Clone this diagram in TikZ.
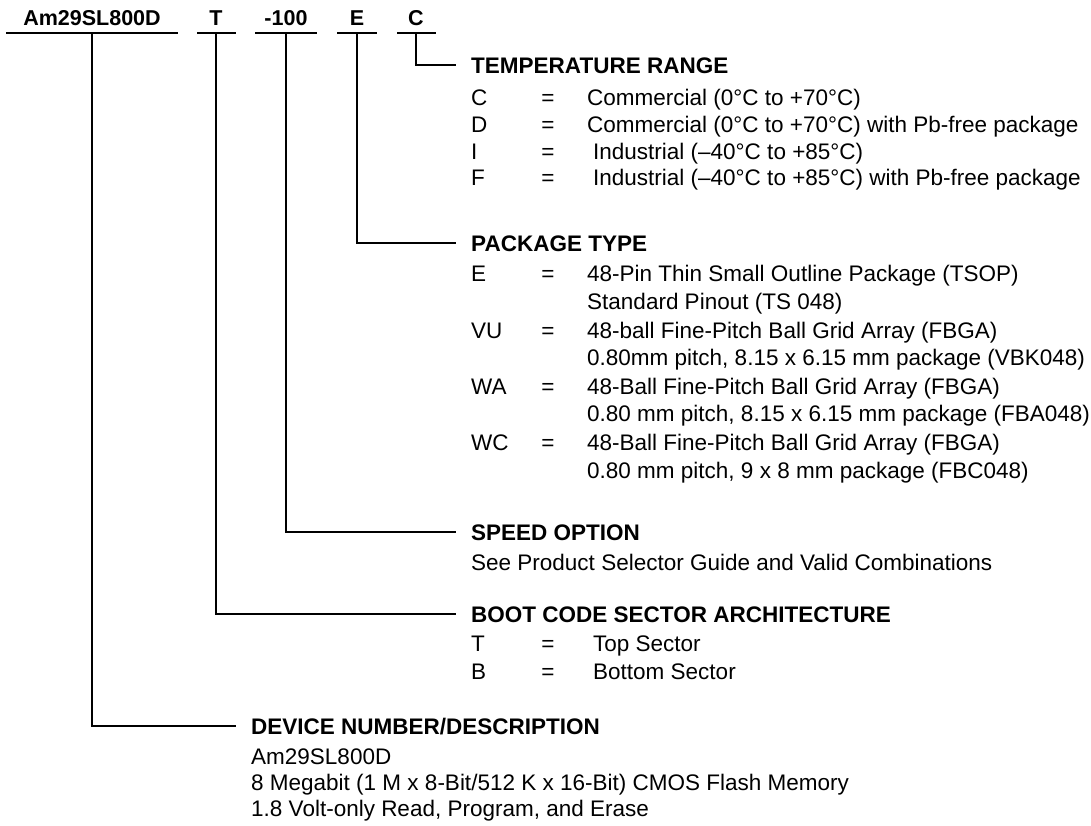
\documentclass[tikz,border=0pt]{standalone}
\usepackage{fontspec}
\setmainfont{Liberation Sans}
\begin{document}
\begin{tikzpicture}[x=1pt,y=-1pt,
  txt/.style={anchor=base west,inner sep=0pt,font=\fontsize{22.5}{27}\selectfont},
  hd/.style={anchor=base west,inner sep=0pt,font=\fontsize{22.5}{27}\selectfont\bfseries},
  top/.style={anchor=base,inner sep=0pt,font=\fontsize{21.5}{26}\selectfont\bfseries},
  eqs/.style={anchor=base,inner sep=0pt,font=\fontsize{22.5}{27}\selectfont},
  conn/.style={line width=1.6pt,line cap=butt}]
\useasboundingbox (0,0) rectangle (1091,825);
% header
\node[top] (hAm) at (92,25) {Am29SL800D};
\node[top] (hT) at (216,25) {T};
\node[top] (h100) at (286,25) {-100};
\node[top] (hE) at (357,25) {E};
\node[top] (hC) at (416,25) {C};
\coordinate (uAmL) at (6,33); \coordinate (uAmR) at (178,33); \coordinate (uAm) at (92,33);
\coordinate (uTL) at (197,33); \coordinate (uTR) at (236,33); \coordinate (uT) at (216,33);
\coordinate (u1L) at (255,33); \coordinate (u1R) at (317,33); \coordinate (u1) at (286,33);
\coordinate (uEL) at (337,33); \coordinate (uER) at (377,33); \coordinate (uE) at (357,33);
\coordinate (uCL) at (397,33); \coordinate (uCR) at (436,33); \coordinate (uC) at (416,33);
\draw[conn] (uAmL) -- (uAmR);
\draw[conn] (uTL) -- (uTR);
\draw[conn] (u1L) -- (u1R);
\draw[conn] (uEL) -- (uER);
\draw[conn] (uCL) -- (uCR);
% connector ends
\coordinate (eC) at (456,65);
\coordinate (eE) at (456,243);
\coordinate (e1) at (456,532);
\coordinate (eT) at (456,614);
\coordinate (eAm) at (236,726);
\draw[conn] (uC) |- (eC);
\draw[conn] (uE) |- (eE);
\draw[conn] (u1) |- (e1);
\draw[conn] (uT) |- (eT);
\draw[conn] (uAm) |- (eAm);
% temperature range
\node[hd] (tH) at (471,73) {TEMPERATURE RANGE};
\node[txt] (tC) at (471,105) {C};   \node[eqs] (tCe) at (548,105) {=}; \node[txt] (tCd) at (587,105) {Commercial (0°C to +70°C)};
\node[txt] (tD) at (471,132) {D};   \node[eqs] (tDe) at (548,132) {=}; \node[txt] (tDd) at (587,132) {Commercial (0°C to +70°C) with Pb-free package};
\node[txt] (tI) at (471,159) {I};   \node[eqs] (tIe) at (548,159) {=}; \node[txt] (tId) at (593,159) {Industrial (–40°C to +85°C)};
\node[txt] (tF) at (471,185) {F};   \node[eqs] (tFe) at (548,185) {=}; \node[txt] (tFd) at (593,185) {Industrial (–40°C to +85°C) with Pb-free package};
% package type
\node[hd] (pH) at (471,251) {PACKAGE TYPE};
\node[txt] (pE) at (471,281) {E};   \node[eqs] (pEe) at (548,281) {=}; \node[txt] (pEd) at (587,281) {48-Pin Thin Small Outline Package (TSOP)};
\node[txt] (pEd2) at (587,309) {Standard Pinout (TS 048)};
\node[txt] (pV) at (471,338) {VU};  \node[eqs] (pVe) at (548,338) {=}; \node[txt] (pVd) at (587,338) {48-ball Fine-Pitch Ball Grid Array (FBGA)};
\node[txt] (pVd2) at (587,365) {0.80mm pitch, 8.15 x 6.15 mm package (VBK048)};
\node[txt] (pA) at (471,394) {WA};  \node[eqs] (pAe) at (548,394) {=}; \node[txt] (pAd) at (587,394) {48-Ball Fine-Pitch Ball Grid Array (FBGA)};
\node[txt] (pAd2) at (587,421) {0.80 mm pitch, 8.15 x 6.15 mm package (FBA048)};
\node[txt] (pW) at (471,450) {WC};  \node[eqs] (pWe) at (548,450) {=}; \node[txt] (pWd) at (587,450) {48-Ball Fine-Pitch Ball Grid Array (FBGA)};
\node[txt] (pWd2) at (587,478) {0.80 mm pitch, 9 x 8 mm package (FBC048)};
% speed option
\node[hd] (sH) at (471,540) {SPEED OPTION};
\node[txt] (sD) at (471,570) {See Product Selector Guide and Valid Combinations};
% boot code
\node[hd] (bH) at (471,622) {BOOT CODE SECTOR ARCHITECTURE};
\node[txt] (bT) at (471,651) {T};   \node[eqs] (bTe) at (548,651) {=}; \node[txt] (bTd) at (593,651) {Top Sector};
\node[txt] (bB) at (471,679) {B};   \node[eqs] (bBe) at (548,679) {=}; \node[txt] (bBd) at (593,679) {Bottom Sector};
% device
\node[hd] (dH) at (251,734) {DEVICE NUMBER/DESCRIPTION};
\node[txt] (d1) at (251,764) {Am29SL800D};
\node[txt] (d2) at (251,790) {8 Megabit (1 M x 8-Bit/512 K x 16-Bit) CMOS Flash Memory};
\node[txt] (d3) at (251,816) {1.8 Volt-only Read, Program, and Erase};
\end{tikzpicture}
\end{document}
